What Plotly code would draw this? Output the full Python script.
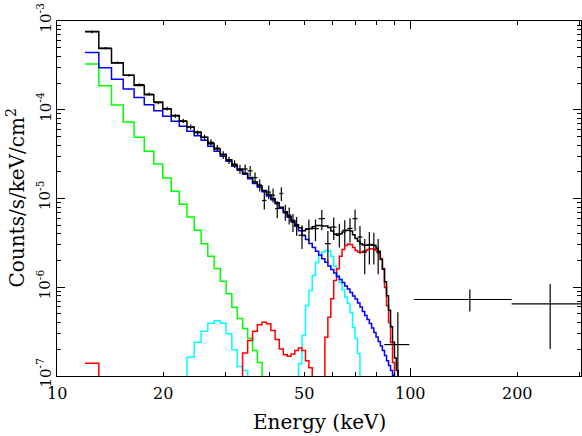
import math
import plotly.graph_objects as go

# model bin edges (keV)
edges = [12.00, 13.13, 14.26, 15.39, 16.52, 17.65, 18.78, 19.91, 21.04, 22.17,
         23.30, 24.43, 25.56, 26.69, 27.82, 28.95, 30.08, 31.21, 32.34, 33.47,
         34.60, 35.73, 36.86, 37.99, 39.12, 40.25, 41.38, 42.51, 43.64, 44.77,
         45.90, 47.03, 48.16, 49.29, 50.42, 51.55, 52.68, 53.81, 54.94, 56.07,
         57.20, 58.33, 59.46, 60.59, 61.72, 62.85, 63.98, 65.11, 66.24, 67.37,
         68.50, 69.63, 70.76, 71.89, 73.02, 74.15, 75.28, 76.41, 77.54, 78.67,
         79.80, 80.93, 82.06, 83.19, 84.32, 85.45, 86.58, 87.71, 88.84, 89.97,
         91.10, 92.23]

OFF = 1e-9  # below the plotted range

total_model = [7.6e-4, 4.9e-4, 3.36e-4, 2.45e-4, 1.88e-4, 1.48e-4, 1.22e-4, 1.02e-4, 8.6e-5, 7.4e-5,
               6.4e-5, 5.6e-5, 4.9e-5, 4.15e-5, 3.62e-5, 3.15e-5, 2.74e-5, 2.39e-5, 2.14e-5, 1.93e-5,
               1.72e-5, 1.53e-5, 1.39e-5, 1.23e-5, 1.11e-5, 1.0e-5, 8.97e-6, 7.95e-6, 7.07e-6, 6.3e-6,
               5.64e-6, 5.05e-6, 4.67e-6, 4.32e-6, 4.5e-6, 4.6e-6, 4.8e-6, 4.95e-6, 4.95e-6, 4.9e-6,
               4.9e-6, 4.7e-6, 4.3e-6, 3.95e-6, 3.85e-6, 4.0e-6, 4.2e-6, 4.35e-6, 4.4e-6, 4.3e-6,
               3.9e-6, 3.55e-6, 3.3e-6, 3.1e-6, 3.0e-6, 2.97e-6, 3.0e-6, 3.03e-6, 3.0e-6, 2.95e-6,
               2.75e-6, 2.55e-6, 2.05e-6, 1.6e-6, 1.15e-6, 8.0e-7, 5.5e-7, 3.6e-7, 2.4e-7, 1.6e-7,
               1.15e-7]

continuum = [4.43e-4, 2.97e-4, 2.21e-4, 1.71e-4, 1.37e-4, 1.14e-4, 9.77e-5, 8.47e-5, 7.43e-5, 6.53e-5,
             5.73e-5, 5.1e-5, 4.54e-5, 3.88e-5, 3.41e-5, 2.99e-5, 2.63e-5, 2.31e-5, 2.08e-5, 1.87e-5,
             1.67e-5, 1.48e-5, 1.34e-5, 1.19e-5, 1.07e-5, 9.67e-6, 8.71e-6, 7.75e-6, 6.9e-6, 6.13e-6,
             5.46e-6, 4.86e-6, 4.32e-6, 3.84e-6, 3.46e-6, 3.12e-6, 2.81e-6, 2.54e-6, 2.31e-6, 2.09e-6,
             1.91e-6, 1.74e-6, 1.59e-6, 1.45e-6, 1.32e-6, 1.22e-6, 1.13e-6, 1.03e-6, 9.57e-7, 8.74e-7,
             7.97e-7, 7.38e-7, 6.65e-7, 5.99e-7, 5.33e-7, 4.81e-7, 4.33e-7, 3.9e-7, 3.47e-7, 3.09e-7,
             2.75e-7, 2.45e-7, 2.18e-7, 1.94e-7, 1.7e-7, 1.49e-7, 1.31e-7, 1.15e-7, 1.02e-7, 8.8e-8,
             7.5e-8]

soft = [3.27e-4, 1.86e-4, 1.13e-4, 7.3e-5, 4.9e-5, 3.41e-5, 2.45e-5, 1.7e-5, 1.21e-5, 8.6e-6,
        6.2e-6, 4.38e-6, 3.1e-6, 2.24e-6, 1.63e-6, 1.17e-6, 8.45e-7, 5.96e-7, 4.45e-7, 3.43e-7,
        2.64e-7, 1.94e-7, 1.42e-7, 6e-8] + [OFF] * 47

line_a = ([OFF] * 10 +
          [1.63e-7, 2.4e-7, 3.2e-7, 3.94e-7, 4.19e-7, 3.94e-7, 2.99e-7, 1.97e-7, 1.28e-7, 1.15e-7] +
          [OFF] * 12 +
          [1.38e-7, 2.86e-7, 6.23e-7, 9.2e-7, 1.36e-6, 1.9e-6, 2.29e-6, 2.49e-6, 2.6e-6, 2.54e-6,
           2.23e-6, 1.72e-6, 1.36e-6, 1.13e-6, 9.4e-7, 7.7e-7, 6.56e-7, 5.2e-7, 3.52e-7, 2.64e-7,
           1.79e-7] +
          [OFF] * 18)

line_b = ([1.39e-7] + [OFF] * 18 +
          [1.82e-7, 2.51e-7, 3.2e-7, 3.78e-7, 4.04e-7, 3.87e-7, 3.25e-7, 2.58e-7, 2.02e-7, 1.73e-7,
           1.67e-7, 1.77e-7, 1.94e-7, 2.07e-7, 1.94e-7, 1.49e-7, 1.24e-7] +
          [OFF] * 4 +
          [2.74e-7, 4.6e-7, 7.4e-7, 1.19e-6, 1.62e-6, 2.23e-6, 2.67e-6, 2.96e-6, 3.08e-6, 3.04e-6,
           2.81e-6, 2.6e-6, 2.5e-6, 2.47e-6, 2.54e-6, 2.6e-6, 2.67e-6, 2.72e-6, 2.7e-6, 2.64e-6,
           2.6e-6, 2.41e-6, 2.11e-6, 1.63e-6, 9.95e-7, 6.2e-7, 4.0e-7, 2.38e-7, 1.42e-7] +
          [OFF] * 2)

# data points: energy, energy range, flux, flux range
data_e = [12.57, 13.70, 14.83, 15.96, 17.09, 18.22, 19.35, 20.48, 21.61, 22.74,
          23.87, 25.00, 26.13, 27.26, 28.39, 29.52, 30.65, 31.78, 32.91, 34.04,
          35.17, 36.30, 37.43, 38.56, 39.69, 40.82, 41.95, 43.08, 44.21, 45.34,
          46.47, 47.60, 49.29, 51.55, 53.81, 56.07, 58.33, 60.59, 62.85, 65.11,
          67.37, 69.63, 71.89, 74.15, 76.41, 78.67, 80.93, 92.0, 147.0, 248.0]
data_e_lo = [12.00, 13.13, 14.26, 15.39, 16.52, 17.65, 18.78, 19.91, 21.04, 22.17,
             23.30, 24.43, 25.56, 26.69, 27.82, 28.95, 30.08, 31.21, 32.34, 33.47,
             34.60, 35.73, 36.86, 37.99, 39.12, 40.25, 41.38, 42.51, 43.64, 44.77,
             45.90, 47.03, 48.16, 50.42, 52.68, 54.94, 57.20, 59.46, 61.72, 63.98,
             66.24, 68.50, 70.76, 73.02, 75.28, 77.54, 79.80, 84.2, 102.0, 193.0]
data_e_hi = [13.13, 14.26, 15.39, 16.52, 17.65, 18.78, 19.91, 21.04, 22.17, 23.30,
             24.43, 25.56, 26.69, 27.82, 28.95, 30.08, 31.21, 32.34, 33.47, 34.60,
             35.73, 36.86, 37.99, 39.12, 40.25, 41.38, 42.51, 43.64, 44.77, 45.90,
             47.03, 48.16, 50.42, 52.68, 54.94, 57.20, 59.46, 61.72, 63.98, 66.24,
             68.50, 70.76, 73.02, 75.28, 77.54, 79.80, 82.06, 99.1, 193.0, 310.0]
data_f = [7.55e-4, 4.95e-4, 3.4e-4, 2.45e-4, 1.92e-4, 1.5e-4, 1.2e-4, 1.03e-4, 8.5e-5, 7.5e-5,
          6.4e-5, 5.5e-5, 4.9e-5, 4.3e-5, 3.7e-5, 3.1e-5, 2.7e-5, 2.45e-5, 2.15e-5, 2.15e-5,
          2.05e-5, 1.72e-5, 1.42e-5, 9.5e-6, 1.18e-5, 1.09e-5, 7.7e-6, 1.14e-5, 7.05e-6, 6.5e-6,
          5.45e-6, 5.0e-6, 3.85e-6, 4.57e-6, 4.57e-6, 5.93e-6, 3.1e-6, 4.77e-6, 4.01e-6, 4.38e-6,
          4.6e-6, 5.93e-6, 3.68e-6, 2.49e-6, 3.0e-6, 2.96e-6, 2.49e-6, 2.26e-7, 7.28e-7, 6.51e-7]
data_f_lo = [7.3e-4, 4.8e-4, 3.3e-4, 2.37e-4, 1.85e-4, 1.44e-4, 1.15e-4, 9.8e-5, 8.1e-5, 7.1e-5,
             6.0e-5, 5.15e-5, 4.55e-5, 3.95e-5, 3.4e-5, 2.8e-5, 2.45e-5, 2.2e-5, 1.9e-5, 1.88e-5,
             1.78e-5, 1.48e-5, 1.2e-5, 7.5e-6, 9.8e-6, 9.0e-6, 6.0e-6, 9.4e-6, 5.6e-6, 5.1e-6,
             4.2e-6, 3.8e-6, 2.7e-6, 3.3e-6, 3.3e-6, 4.4e-6, 1.9e-6, 3.4e-6, 2.8e-6, 3.0e-6,
             3.2e-6, 4.3e-6, 2.4e-6, 1.4e-6, 1.8e-6, 1.8e-6, 1.4e-6, 5e-8, 5.33e-7, 2.02e-7]
data_f_hi = [7.8e-4, 5.1e-4, 3.5e-4, 2.53e-4, 1.99e-4, 1.56e-4, 1.25e-4, 1.08e-4, 8.9e-5, 7.9e-5,
             6.8e-5, 5.85e-5, 5.25e-5, 4.65e-5, 4.0e-5, 3.4e-5, 2.95e-5, 2.7e-5, 2.4e-5, 2.42e-5,
             2.32e-5, 1.96e-5, 1.64e-5, 1.2e-5, 1.4e-5, 1.3e-5, 9.4e-6, 1.34e-5, 8.5e-6, 7.9e-6,
             6.7e-6, 6.2e-6, 5.0e-6, 5.8e-6, 5.8e-6, 7.4e-6, 4.3e-6, 6.1e-6, 5.2e-6, 5.7e-6,
             6.0e-6, 7.5e-6, 4.9e-6, 3.5e-6, 4.2e-6, 4.1e-6, 3.5e-6, 5.24e-7, 9.44e-7, 1.09e-6]

x_labels = [10, 20, 50, 100, 200]
y_labels = [-7, -6, -5, -4, -3]

fig = go.Figure()

components = [
    (soft, "#00ff00"),
    (line_a, "#00ffff"),
    (line_b, "#ff0000"),
    (continuum, "#0000ff"),
    (total_model, "#000000"),
]
for vals, colour in components:
    # histogram outline, closed by a drop below the axis after the last bin
    xs = list(edges)
    ys = list(vals) + [OFF]
    fig.add_trace(go.Scatter(x=xs, y=ys, mode="lines", line_shape="hv",
                             line=dict(color=colour, width=1.5),
                             hoverinfo="skip", showlegend=False))

fig.add_trace(go.Scatter(
    x=data_e, y=data_f, mode="markers",
    marker=dict(size=1, color="black"),
    error_x=dict(type="data", symmetric=False,
                 array=[h - e for h, e in zip(data_e_hi, data_e)],
                 arrayminus=[e - l for e, l in zip(data_e, data_e_lo)],
                 color="black", thickness=1.2, width=0),
    error_y=dict(type="data", symmetric=False,
                 array=[h - f for h, f in zip(data_f_hi, data_f)],
                 arrayminus=[f - l for f, l in zip(data_f, data_f_lo)],
                 color="black", thickness=1.2, width=0),
    showlegend=False))

font_main = "DejaVu Serif"
y_minor = [m * d for d in [1e-7, 1e-6, 1e-5, 1e-4] for m in range(2, 10)]

fig.update_layout(
    width=582, height=436,
    margin=dict(l=57, r=1, t=21, b=60),
    paper_bgcolor="white", plot_bgcolor="white",
    font=dict(family=font_main, size=16, color="black"),
    xaxis=dict(
        type="log", range=[1.0, 2.4816],
        tickvals=[10, 100], showticklabels=False,
        ticks="inside", ticklen=8, tickwidth=1, tickcolor="black",
        minor=dict(tickvals=[20, 30, 40, 50, 60, 70, 80, 90, 200, 300],
                   ticks="inside", ticklen=4, tickcolor="black", tickwidth=1),
        showline=True, linecolor="black", linewidth=1, mirror="allticks",
        showgrid=False, zeroline=False,
    ),
    yaxis=dict(
        type="log", range=[-7, -3],
        tickvals=[10.0 ** p for p in y_labels], showticklabels=False,
        ticks="inside", ticklen=8, tickwidth=1, tickcolor="black",
        minor=dict(tickvals=y_minor, ticks="inside", ticklen=4,
                   tickcolor="black", tickwidth=1),
        showline=True, linecolor="black", linewidth=1, mirror="allticks",
        showgrid=False, zeroline=False,
    ),
)

# energy tick labels (log axis: annotation x is given in decades)
for e_lab in x_labels:
    fig.add_annotation(x=math.log10(e_lab), y=0, xref="x", yref="paper", text=str(e_lab),
                       showarrow=False, yanchor="top", yshift=-6,
                       font=dict(size=16, family=font_main))

# flux tick labels, written upwards from the tick
for p in y_labels:
    fig.add_annotation(x=0, y=p, xref="paper", yref="y",
                       text="10<sup>%d</sup>" % p, textangle=-90,
                       showarrow=False, xanchor="right", yanchor="bottom",
                       xshift=-2, yshift=-13, borderpad=0,
                       font=dict(size=15, family=font_main))

fig.add_annotation(x=0.5, y=0, xref="paper", yref="paper", text="Energy (keV)",
                   showarrow=False, yanchor="top", yshift=-32,
                   font=dict(size=20, family=font_main))
fig.add_annotation(x=0, y=0.5, xref="paper", yref="paper",
                   text="Counts/s/keV/cm<sup>2</sup>", textangle=-90,
                   showarrow=False, xanchor="right", xshift=-27,
                   font=dict(size=20, family=font_main))

fig.write_html("out.html", config={"displayModeBar": False},
               post_script="document.body.style.margin='0px';")
